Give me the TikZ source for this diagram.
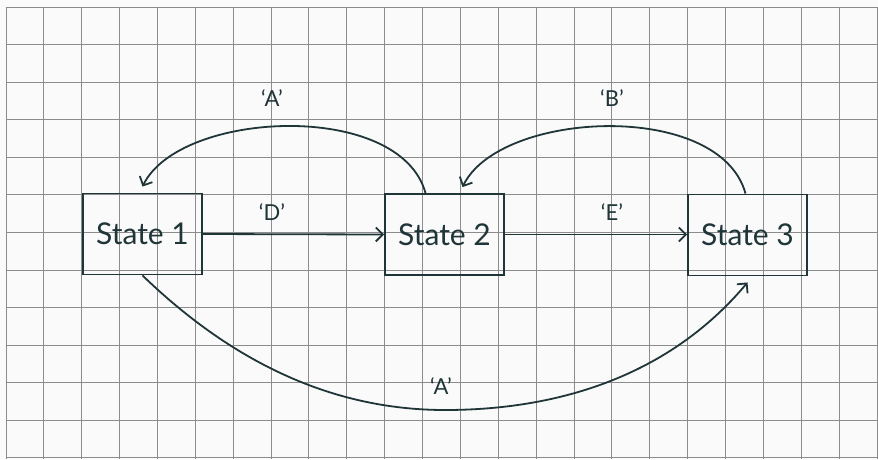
\documentclass[tikz,border=0pt]{standalone}
\usepackage{fontspec}
\setmainfont{Lato}
\usetikzlibrary{arrows.meta,calc}
\definecolor{ink}{HTML}{1F3538}
\definecolor{gridc}{HTML}{8C8C8C}
\definecolor{paper}{HTML}{FAFAFA}

\begin{document}
\begin{tikzpicture}[x=1pt,y=-1pt,
  state/.style={draw=ink,line width=1.9pt,minimum width=119pt,minimum height=81pt,inner sep=0pt,
    font=\fontsize{30}{32}\selectfont,text=ink},
  lbl/.style={font=\fontsize{22}{24}\selectfont,text=ink},
  trans/.style={draw=ink,line width=1.8pt,-{Straight Barb[length=7pt,width=14pt]}}]
  \fill[paper] (0,0) rectangle (878,459);
  \useasboundingbox (0,0) rectangle (878,459);

  % grid paper
  \foreach \i in {0,...,23}
    \draw[gridc,line width=1pt] (6+37.87*\i,7) -- (6+37.87*\i,459);
  \foreach \j in {0,...,12}
    \draw[gridc,line width=1pt] (6,7+37.58*\j) -- (878,7+37.58*\j);

  % states
  \node[state] (s1) at (142.5,234) {State 1};
  \node[state] (s2) at (444.5,234.5) {State 2};
  \node[state] (s3) at (747.5,235) {State 3};

  % transitions
  \draw[trans] (s1.east) -- (s2.west);
  \node[lbl] (ld) at (272,212) {`D'};
  \draw[trans] (s2.east) -- (s2.east -| s3.west);
  \node[lbl] (le) at (612,212) {`E'};

  \draw[trans] ($(s2.north)+(-19,0)$) .. controls (400,100) and (180,110) .. ($(s1.north)+(0,-6)$);
  \node[lbl] (la) at (272,98) {`A'};
  \draw[trans] ($(s3.north)+(-2,0)$) .. controls (720,100) and (500,110) .. ($(s2.north)+(18,-6)$);
  \node[lbl] (lb) at (612,98) {`B'};

  \coordinate (low) at (445,410);
  \draw[trans] (s1.south) .. controls (230,360) and (330,410) .. (low)
    .. controls (560,410) and (670,375) .. ($(s3.south)+(0,6)$);
  \node[lbl] (la2) at (441,386) {`A'};
\end{tikzpicture}
\end{document}
